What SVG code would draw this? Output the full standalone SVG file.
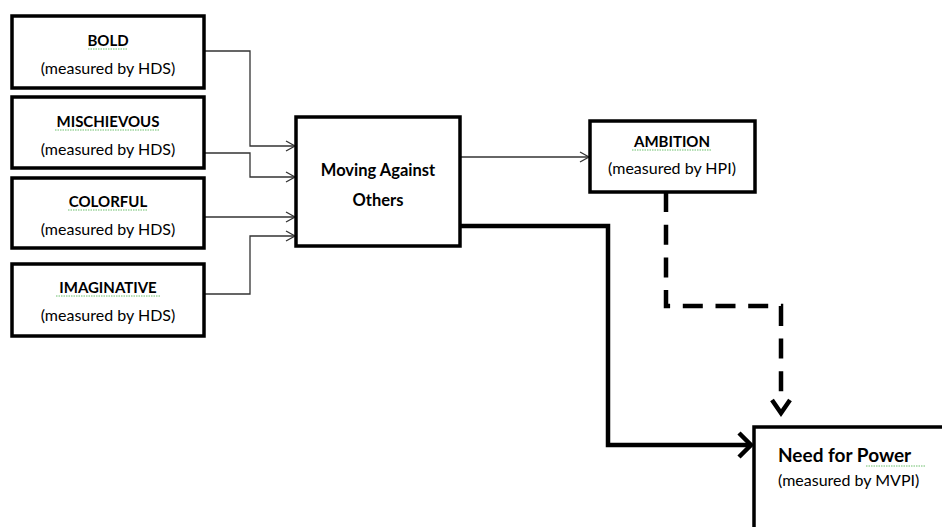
<svg xmlns="http://www.w3.org/2000/svg" width="942" height="527" viewBox="0 0 942 527">
<style>
.box{fill:#fff;stroke:#000;stroke-width:3.5}
.t{font-family:Lato,"Open Sans","Liberation Sans",sans-serif;font-weight:bold;font-size:15px;fill:#000;text-anchor:middle}
.s{font-family:Lato,"Open Sans","Liberation Sans",sans-serif;font-size:16px;fill:#000;text-anchor:middle}
.thin{fill:none;stroke:#333;stroke-width:1.3}
.thick{fill:none;stroke:#000;stroke-width:4.5}
.dash{fill:none;stroke:#000;stroke-width:4.5;stroke-dasharray:20,12.7}
.sq{fill:none;stroke:#6cbf6c;stroke-width:1;stroke-dasharray:1.5,1}
</style>
<defs>
<marker id="a" markerWidth="12" markerHeight="12" refX="10" refY="6" orient="auto" markerUnits="userSpaceOnUse">
<path d="M1,1 L10,6 L1,11" fill="none" stroke="#333" stroke-width="1.3"/>
</marker>
</defs>
<rect width="942" height="527" fill="#fff"/>
<g id="connectors">
<path class="thin" d="M204,51 H250 V146 H295" marker-end="url(#a)"/>
<path class="thin" d="M204,153 H250 V177 H295" marker-end="url(#a)"/>
<path class="thin" d="M204,217 H295" marker-end="url(#a)"/>
<path class="thin" d="M204,294 H250 V236 H295" marker-end="url(#a)"/>
<path class="thin" d="M460,157 H589" marker-end="url(#a)"/>
<path class="thick" d="M460,226 H608 V445 H751"/>
<path d="M739,433 L751,445 L739,457" fill="none" stroke="#000" stroke-width="4.5"/>
<path class="dash" d="M666,192 V306 H781 V396"/>
<path d="M772,400 L781,413 L790,400" fill="none" stroke="#000" stroke-width="4.5"/>
</g>
<g id="bold">
<rect class="box" x="12" y="16" width="192" height="72"/>
<text class="t" x="108" y="46">BOLD</text>
<path class="sq" d="M88,49 H128"/>
<text class="s" x="108" y="74">(measured by HDS)</text>
</g>
<g id="mischievous">
<rect class="box" x="12" y="97" width="192" height="71"/>
<text class="t" x="108" y="127">MISCHIEVOUS</text>
<path class="sq" d="M55,130 H160"/>
<text class="s" x="108" y="155">(measured by HDS)</text>
</g>
<g id="colorful">
<rect class="box" x="12" y="178" width="192" height="70"/>
<text class="t" x="108" y="207">COLORFUL</text>
<path class="sq" d="M68,210 H147"/>
<text class="s" x="108" y="235">(measured by HDS)</text>
</g>
<g id="imaginative">
<rect class="box" x="12" y="264" width="192" height="72"/>
<text class="t" x="108" y="293">IMAGINATIVE</text>
<path class="sq" d="M56,296 H160"/>
<text class="s" x="108" y="321">(measured by HDS)</text>
</g>
<g id="moving">
<rect class="box" x="296" y="117" width="164" height="129"/>
<text class="t" x="378" y="176" style="font-size:16.5px">Moving Against</text>
<text class="t" x="378" y="206" style="font-size:16.5px">Others</text>
</g>
<g id="ambition">
<rect class="box" x="590" y="121" width="165" height="71"/>
<text class="t" x="672" y="147">AMBITION</text>
<path class="sq" d="M632,150 H712"/>
<text class="s" x="672" y="174">(measured by HPI)</text>
</g>
<g id="power">
<rect class="box" x="754" y="427" width="200" height="120"/>
<text class="t" x="778" y="462" style="font-size:19px;text-anchor:start">Need for Power</text>
<path class="sq" d="M866,466 H926"/>
<text class="s" x="778" y="486" style="text-anchor:start">(measured by MVPI)</text>
</g>
</svg>
